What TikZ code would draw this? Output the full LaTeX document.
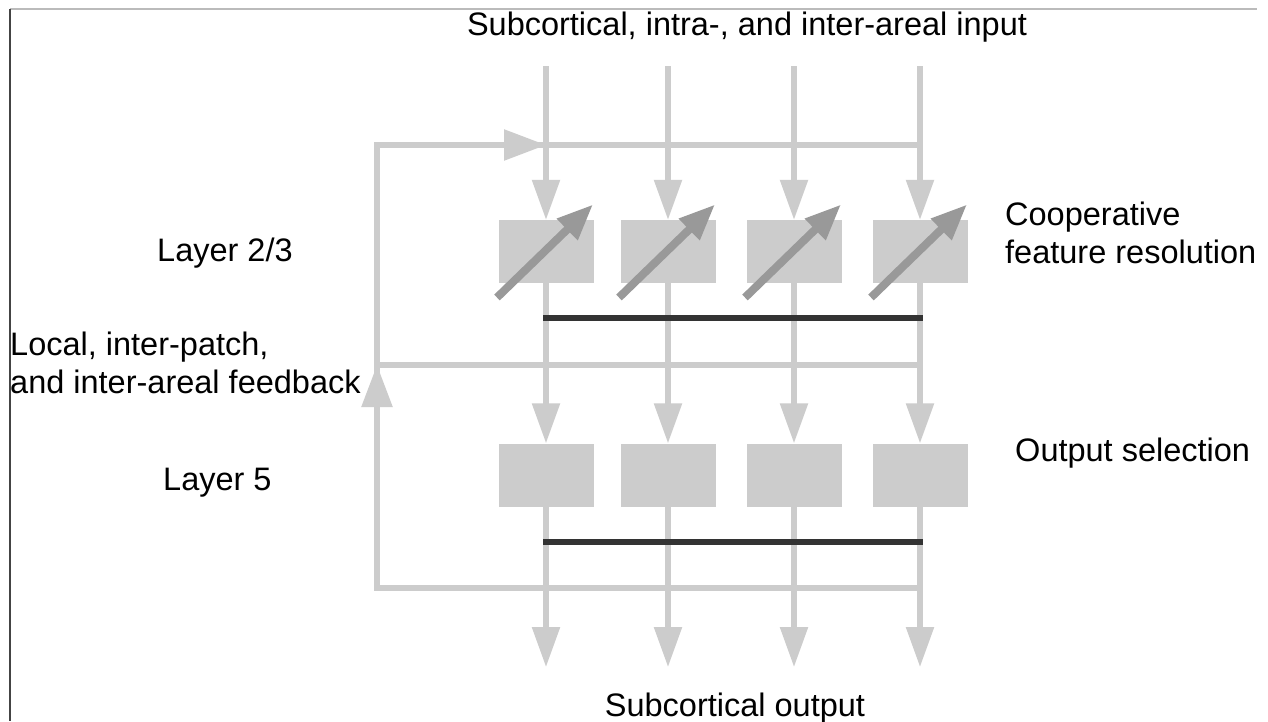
\documentclass[tikz,border=0pt]{standalone}
\usepackage{fontspec}
\setmainfont{Liberation Sans}
\usetikzlibrary{arrows.meta}
\definecolor{lg}{HTML}{CCCCCC}
\definecolor{mg}{HTML}{999999}
\definecolor{dk}{HTML}{333333}
\definecolor{frameline}{HTML}{BBBBBB}
\definecolor{frameleft}{HTML}{444444}
\begin{document}
\begin{tikzpicture}[x=1pt,y=-1pt,
  wire/.style={draw=lg, line width=5.5pt},
  arr/.style={wire, -{Triangle[length=40pt,width=27pt]}},
  sidearr/.style={wire, -{Triangle[length=42pt,width=30pt]}},
  box/.style={fill=lg, draw=none, minimum width=95pt, minimum height=63pt, inner sep=0pt},
  knob/.style={draw=mg, line width=8pt, -{Triangle[length=36pt,width=28pt]}},
  bar/.style={draw=dk, line width=6pt, line cap=rect},
  lbl/.style={font=\fontsize{32.5}{38}\selectfont, inner sep=0pt}]
\useasboundingbox (0,0) rectangle (1268,721);
\fill[white] (0,0) rectangle (1268,721);
% frame lines
\draw[frameline, line width=1.5pt] (10,9) -- (1257,9);
\draw[frameleft, line width=2pt] (10,9) -- (10,721);

% boxes
\foreach \i/\x in {1/546,2/668,3/794,4/920}{
  \node[box] (a\i) at (\x,251.5) {};
  \node[box] (c\i) at (\x,475) {};
  \coordinate (in\i) at (\x,66);
  \coordinate (out\i) at (\x,667);
}
% loop coordinates
\coordinate (tl) at (377,145);
\coordinate (tr) at (920,145);
\coordinate (t1) at (546,145);
\coordinate (ml) at (377,365);
\coordinate (mr) at (920,365);
\coordinate (bl) at (377,588);
\coordinate (br) at (920,588);

% feedback loop
\draw[wire, line join=miter] (br) -- (bl) -- (tl) -- (tr);
\draw[wire] (ml) -- (mr);
\draw[sidearr] (bl) -- (ml);
\draw[sidearr] (tl) -- (t1);

% vertical flows
\foreach \i in {1,2,3,4}{
  \draw[arr] (in\i) -- (a\i.north);
  \draw[arr] (a\i.south) -- (c\i.north);
  \draw[arr] (c\i.south) -- (out\i);
}

% boxes on top
\foreach \i/\x in {1/546,2/668,3/794,4/920}{
  \node[box] at (a\i) {};
  \node[box] at (c\i) {};
  \draw[knob] ([shift={(-49,46)}]a\i.center) -- ([shift={(47,-47)}]a\i.center);
}

% black bars
\coordinate (u1) at (546,318);
\coordinate (u4) at (920,318);
\coordinate (v1) at (546,542);
\coordinate (v4) at (920,542);
\draw[bar] (u1) -- (u4);
\draw[bar] (v1) -- (v4);

% labels
\node[lbl, anchor=base] (title) at (747,35) {Subcortical, intra-, and inter-areal input};
\node[lbl, anchor=base] (sout) at (735,716) {Subcortical output};
\node[lbl, anchor=base west] (l23) at (157,261) {Layer 2/3};
\node[lbl, anchor=base west] (l5) at (163,490) {Layer 5};
\node[lbl, anchor=base west] (fb) at (10,355) {\begin{tabular}[t]{@{}l@{}}Local, inter-patch,\\and inter-areal feedback\end{tabular}};
\node[lbl, anchor=base west] (coop) at (1005,225) {\begin{tabular}[t]{@{}l@{}}Cooperative\\feature resolution\end{tabular}};
\node[lbl, anchor=base west] (os) at (1015,461) {Output selection};
\end{tikzpicture}
\end{document}
